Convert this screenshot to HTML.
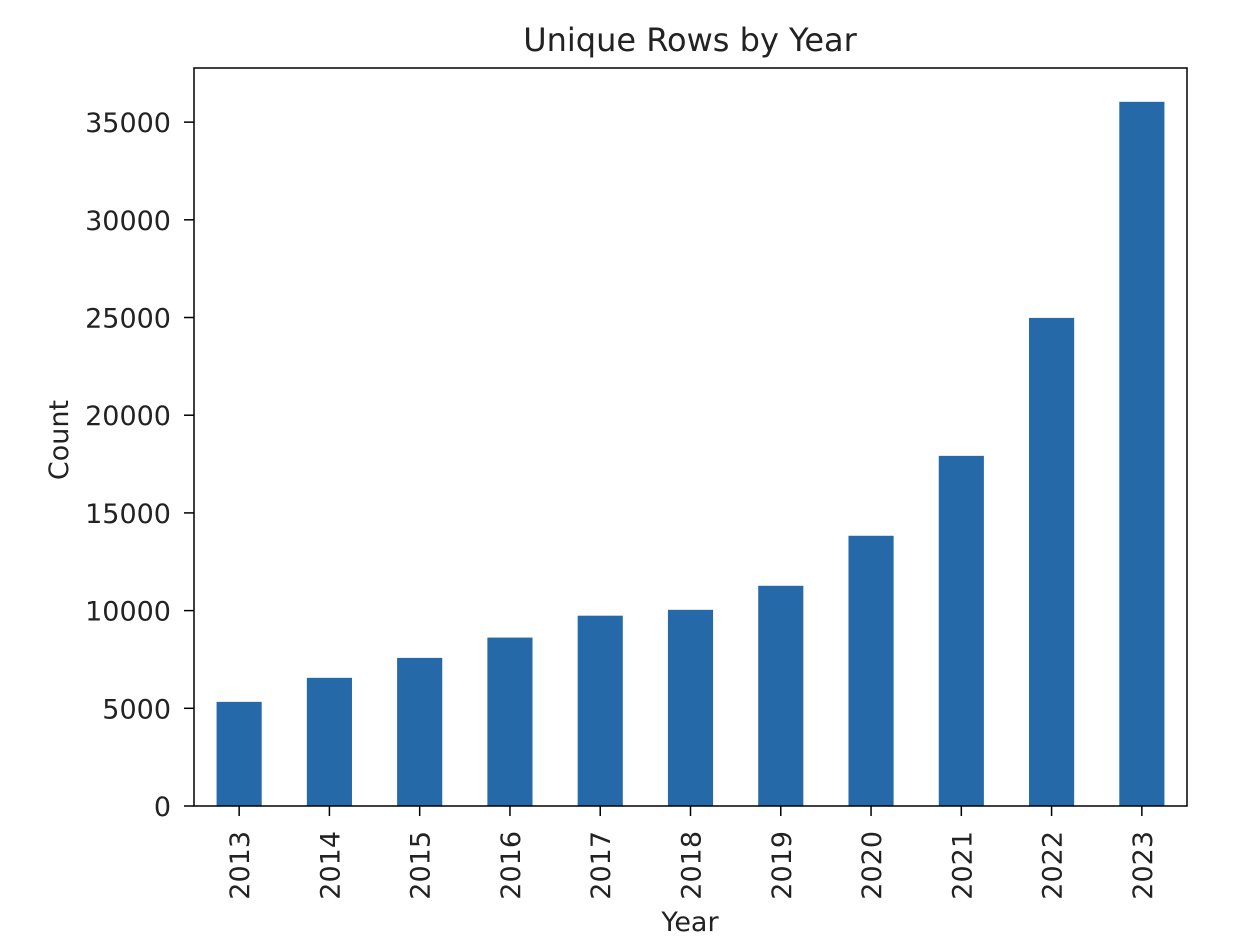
<!DOCTYPE html>
<html><head><meta charset="utf-8"><style>
html,body{margin:0;padding:0;background:#fff;}
svg{display:block;font-family:"DejaVu Sans","Liberation Sans",sans-serif;}
</style></head><body>
<svg id="chart" width="1252" height="946" viewBox="0 0 1252 946">
<text x="690" y="51" text-anchor="middle" font-size="32" fill="#222">Unique Rows by Year</text>
<text x="690" y="931" text-anchor="middle" font-size="27" fill="#222">Year</text>
<text transform="translate(68,440) rotate(-90)" text-anchor="middle" font-size="27" fill="#222">Count</text>
<g id="bars"></g><g id="yticks"></g><g id="xticks"></g>
<rect x="194" y="68" width="993" height="738" fill="none" stroke="#000" stroke-width="1.5"/>
</svg>
<script>
const categories = ["2013","2014","2015","2016","2017","2018","2019","2020","2021","2022","2023"];
const counts = [5330, 6560, 7580, 8620, 9740, 10040, 11270, 13830, 17920, 24980, 36040];
const yTicks = [0, 5000, 10000, 15000, 20000, 25000, 30000, 35000];
const L=194,R=1187,T=68,B=806,YMAX=37770;
const ns="http://www.w3.org/2000/svg";
function y(v){return B-(v/YMAX)*(B-T);}
function x(i){return L+(i+0.5)*(R-L)/categories.length;}
const bw=(R-L)/categories.length*0.5;
const gb=document.getElementById('bars'),gy=document.getElementById('yticks'),gx=document.getElementById('xticks');
counts.forEach((v,i)=>{
  const r=document.createElementNS(ns,'rect');
  r.setAttribute('x',x(i)-bw/2);r.setAttribute('y',y(v));
  r.setAttribute('width',bw);r.setAttribute('height',B-y(v));
  r.setAttribute('fill','#2569a8');
  
  
  gb.appendChild(r);
});
yTicks.forEach(t=>{
  const l=document.createElementNS(ns,'line');
  l.setAttribute('x1',L-10);l.setAttribute('x2',L);l.setAttribute('y1',y(t));l.setAttribute('y2',y(t));
  l.setAttribute('stroke','#000');l.setAttribute('stroke-width','1.5');
  
  
  gy.appendChild(l);
  const s=document.createElementNS(ns,'text');
  s.setAttribute('x',L-23);s.setAttribute('y',y(t)+10);s.setAttribute('text-anchor','end');
  s.setAttribute('font-size','27');s.setAttribute('fill','#222');s.textContent=t;
  
  
  gy.appendChild(s);
});
categories.forEach((c,i)=>{
  const l=document.createElementNS(ns,'line');
  l.setAttribute('x1',x(i));l.setAttribute('x2',x(i));l.setAttribute('y1',B);l.setAttribute('y2',B+10);
  l.setAttribute('stroke','#000');l.setAttribute('stroke-width','1.5');
  
  
  gx.appendChild(l);
  const s=document.createElementNS(ns,'text');
  s.setAttribute('transform','translate('+(x(i)+10)+','+(B+25)+') rotate(-90)');
  s.setAttribute('text-anchor','end');s.setAttribute('font-size','27');s.setAttribute('fill','#222');
  s.textContent=c;
  
  
  gx.appendChild(s);
});
</script>
</body></html>
